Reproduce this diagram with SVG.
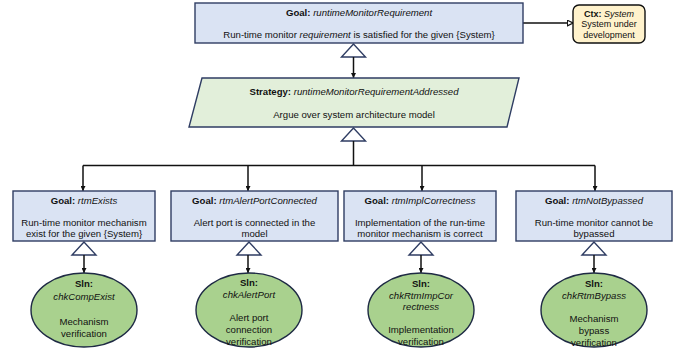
<svg xmlns="http://www.w3.org/2000/svg" width="678" height="352" viewBox="0 0 678 352">
  <defs>
    <style>
      text { font-family: "Liberation Sans", Arial, sans-serif; font-size: 9.6px; fill: #111; text-anchor: middle; }
      .b { font-weight: bold; }
      .i { font-style: italic; }
      .ctx text { font-size: 9px; }
      .goal { fill: #DAE3F3; stroke: #2F3D63; stroke-width: 1.4; }
      .strat { fill: #E2EFDA; stroke: #2F3D63; stroke-width: 1.4; }
      .sln { fill: #A9D18E; stroke: #1E2A44; stroke-width: 1.4; }
      .ctxbox { fill: #FFF2CC; stroke: #111; stroke-width: 1.4; }
      .tri { fill: #FFFFFF; stroke: #2F3D63; stroke-width: 1.4; }
      .link { fill: none; stroke: #111; stroke-width: 1.5; }
    </style>
    <marker id="solid" viewBox="0 0 10 10" refX="10" refY="5" markerWidth="5" markerHeight="5" orient="auto" markerUnits="userSpaceOnUse">
      <path d="M0,0 L10,5 L0,10 Z" fill="#111"/>
    </marker>
    <marker id="open" viewBox="0 0 10 10" refX="9" refY="5" markerWidth="7" markerHeight="7" orient="auto" markerUnits="userSpaceOnUse">
      <path d="M1,1 L9,5 L1,9 Z" fill="#FFFFFF" stroke="#111" stroke-width="1.6"/>
    </marker>
  </defs>

  <!-- connectors -->
  <g id="connectors">
    <!-- supported-by triangles -->
    <polygon class="tri" points="353.5,44 341.5,57 365.5,57"/>
    <polygon class="tri" points="353.5,128 341.5,141 365.5,141"/>
    <polygon class="tri" points="84,242 72,255 96,255"/>
    <polygon class="tri" points="249,242 237,255 261,255"/>
    <polygon class="tri" points="421,242 409,255 433,255"/>
    <polygon class="tri" points="594,242 582,255 606,255"/>

    <line class="link" x1="353.5" y1="57" x2="353.5" y2="78" marker-end="url(#solid)"/>
    <path class="link" d="M353.5,141 V165.5 M83,165.5 H595"/>
    <line class="link" x1="83" y1="165.5" x2="83" y2="191" marker-end="url(#solid)"/>
    <line class="link" x1="248" y1="165.5" x2="248" y2="191" marker-end="url(#solid)"/>
    <line class="link" x1="422" y1="165.5" x2="422" y2="191" marker-end="url(#solid)"/>
    <line class="link" x1="595" y1="165.5" x2="595" y2="191" marker-end="url(#solid)"/>

    <line class="link" x1="84" y1="255" x2="84" y2="273" marker-end="url(#solid)"/>
    <line class="link" x1="248" y1="255" x2="248" y2="273" marker-end="url(#solid)"/>
    <line class="link" x1="421" y1="255" x2="421" y2="273" marker-end="url(#solid)"/>
    <line class="link" x1="594" y1="255" x2="594" y2="273" marker-end="url(#solid)"/>

    <!-- in-context-of -->
    <line class="link" x1="523" y1="23" x2="573" y2="23" marker-end="url(#open)"/>
  </g>

  <!-- top goal -->
  <g id="goal-runtimeMonitorRequirement">
    <rect class="goal" x="195" y="3" width="328" height="40"/>
    <text x="359" y="16"><tspan class="b">Goal: </tspan><tspan class="i">runtimeMonitorRequirement</tspan></text>
    <text x="359" y="37.5">Run-time monitor <tspan class="i">requirement</tspan> is satisfied for the given {System}</text>
  </g>

  <!-- context -->
  <g id="ctx-System" class="ctx">
    <rect class="ctxbox" x="573" y="5" width="72" height="38" rx="6"/>
    <text x="609" y="16.5"><tspan class="b">Ctx: </tspan><tspan class="i">System</tspan></text>
    <text x="609" y="27">System under</text>
    <text x="609" y="38">development</text>
  </g>

  <!-- strategy -->
  <g id="strategy-runtimeMonitorRequirementAddressed">
    <polygon class="strat" points="202,78 519,78 507,127 189,127"/>
    <text x="354" y="95"><tspan class="b">Strategy: </tspan><tspan class="i">runtimeMonitorRequirementAddressed</tspan></text>
    <text x="354" y="118">Argue over system architecture model</text>
  </g>

  <!-- sub-goals -->
  <g id="goal-rtmExists">
    <rect class="goal" x="13" y="191" width="142" height="50"/>
    <text x="84" y="204"><tspan class="b">Goal: </tspan><tspan class="i">rtmExists</tspan></text>
    <text x="84" y="226">Run-time monitor mechanism</text>
    <text x="84" y="237">exist for the given {System}</text>
  </g>

  <g id="goal-rtmAlertPortConnected">
    <rect class="goal" x="171" y="191" width="167" height="50"/>
    <text x="254.5" y="204"><tspan class="b">Goal: </tspan><tspan class="i">rtmAlertPortConnected</tspan></text>
    <text x="254.5" y="226">Alert port is connected in the</text>
    <text x="254.5" y="237">model</text>
  </g>

  <g id="goal-rtmImplCorrectness">
    <rect class="goal" x="344" y="191" width="152" height="50"/>
    <text x="420" y="204"><tspan class="b">Goal: </tspan><tspan class="i">rtmImplCorrectness</tspan></text>
    <text x="420" y="226">Implementation of the run-time</text>
    <text x="420" y="237">monitor mechanism is correct</text>
  </g>

  <g id="goal-rtmNotBypassed">
    <rect class="goal" x="516" y="191" width="156" height="50"/>
    <text x="594" y="204"><tspan class="b">Goal: </tspan><tspan class="i">rtmNotBypassed</tspan></text>
    <text x="594" y="226">Run-time monitor cannot be</text>
    <text x="594" y="237">bypassed</text>
  </g>

  <!-- solutions -->
  <g id="sln-chkCompExist">
    <ellipse class="sln" cx="84" cy="310" rx="53" ry="37"/>
    <text class="b" x="84" y="287">Sln:</text>
    <text class="i" x="84" y="300">chkCompExist</text>
    <text x="84" y="325">Mechanism</text>
    <text x="84" y="337">verification</text>
  </g>

  <g id="sln-chkAlertPort">
    <ellipse class="sln" cx="249" cy="310" rx="53" ry="37"/>
    <text class="b" x="249" y="286">Sln:</text>
    <text class="i" x="249" y="298">chkAlertPort</text>
    <text x="249" y="321">Alert port</text>
    <text x="249" y="333">connection</text>
    <text x="249" y="345">verification</text>
  </g>

  <g id="sln-chkRtmImpCorrectness">
    <ellipse class="sln" cx="421" cy="310" rx="53" ry="37"/>
    <text class="b" x="421" y="287">Sln:</text>
    <text class="i" x="421" y="299">chkRtmImpCor</text>
    <text class="i" x="421" y="310">rectness</text>
    <text x="421" y="333">Implementation</text>
    <text x="421" y="345">verification</text>
  </g>

  <g id="sln-chkRtmBypass">
    <ellipse class="sln" cx="594" cy="310" rx="53" ry="37"/>
    <text class="b" x="594" y="287">Sln:</text>
    <text class="i" x="594" y="299">chkRtmBypass</text>
    <text x="594" y="322">Mechanism</text>
    <text x="594" y="334">bypass</text>
    <text x="594" y="346">verification</text>
  </g>
</svg>
